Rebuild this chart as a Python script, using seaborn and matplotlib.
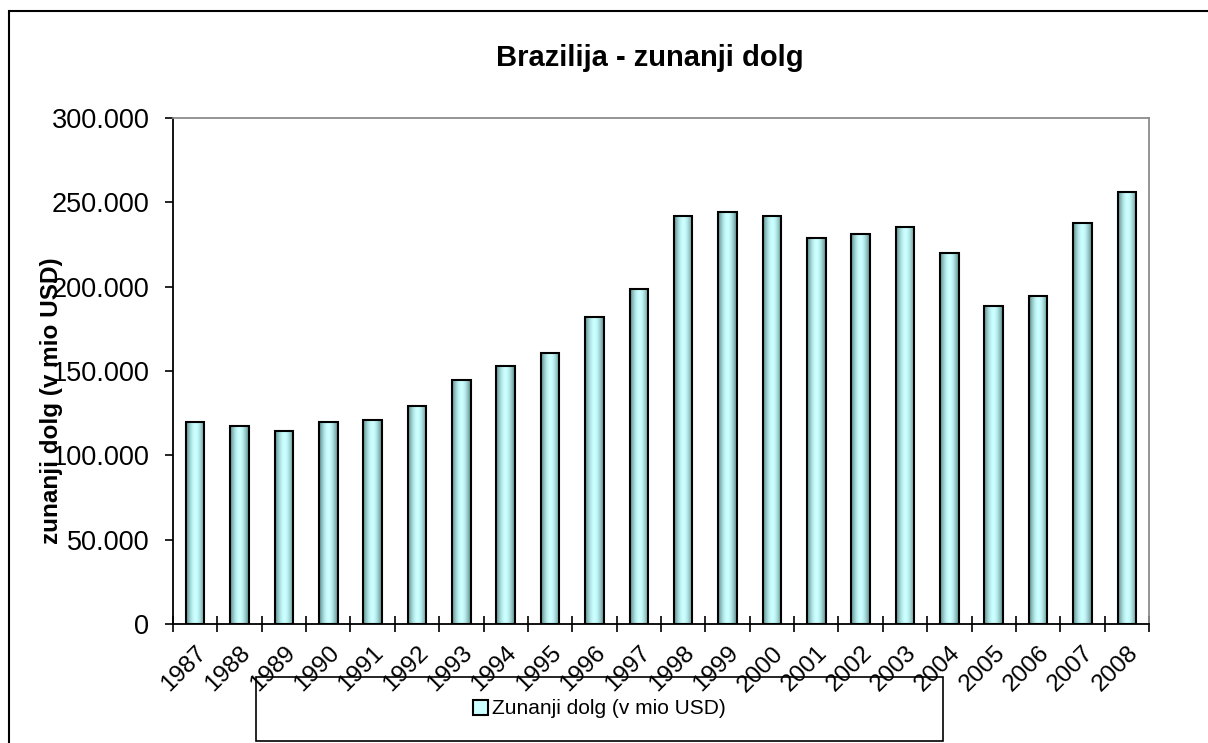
import numpy as np
import pandas as pd
import matplotlib
matplotlib.use('Agg')
import matplotlib.pyplot as plt
import seaborn as sns
from matplotlib.patches import Patch, Rectangle
from matplotlib.ticker import FuncFormatter, FixedLocator

# Data (mio USD)
years = ['1987', '1988', '1989', '1990', '1991', '1992', '1993', '1994', '1995', '1996', '1997',
         '1998', '1999', '2000', '2001', '2002', '2003', '2004', '2005', '2006', '2007', '2008']
debt = [120000, 117400, 114700, 120000, 120800, 129100, 144900, 153000, 160600, 182100, 198600,
        242000, 244200, 242000, 229000, 231400, 235500, 220200, 188500, 194400, 237800, 256000]
y_ticks = [0, 50000, 100000, 150000, 200000, 250000, 300000]

title = 'Brazilija - zunanji dolg'
y_label = 'zunanji dolg (v mio USD)'
series_name = 'Zunanji dolg (v mio USD)'

sns.set_theme(style='white')
plt.rcParams['font.family'] = ['Liberation Sans', 'DejaVu Sans']
plt.rcParams['text.color'] = 'black'
plt.rcParams['xtick.color'] = 'black'
plt.rcParams['ytick.color'] = 'black'

df = pd.DataFrame({'year': years, 'debt': debt})

fig = plt.figure(figsize=(12.08, 7.43), dpi=100)
ax = fig.add_axes([173 / 1208, 1 - 624 / 743, (1149 - 173) / 1208, (624 - 118) / 743])

sns.barplot(data=df, x='year', y='debt', color='#ccffff', width=0.42,
            edgecolor='black', linewidth=1.5, ax=ax, zorder=3)

# cylinder-like horizontal gradient inside each bar (Excel style)
light = np.array([0.80, 1.0, 1.0])
dark = np.array([0.33, 0.52, 0.52])
t = np.linspace(0, 1, 64)
f = 1 - np.abs(2 * t - 1) ** 1.8
grad = dark[None, :] * (1 - f[:, None]) + light[None, :] * f[:, None]
grad = grad[None, :, :]
for p in ax.patches:
    x0 = p.get_x()
    w = p.get_width()
    h = p.get_height()
    im = ax.imshow(grad, extent=[x0, x0 + w, 0, h], aspect='auto', zorder=2.5,
                   interpolation='bilinear')
    im.set_clip_path(p)
    p.set_facecolor('none')

ax.set_xlim(-0.5, len(years) - 0.5)
ax.set_ylim(0, 300000)
ax.set_xlabel('')
ax.set_ylabel('')

# axes styling
for side in ['left', 'bottom']:
    ax.spines[side].set_color('black')
    ax.spines[side].set_linewidth(1.3)
for side in ['top', 'right']:
    ax.spines[side].set_color('#8c8c8c')
    ax.spines[side].set_linewidth(1.3)

ax.yaxis.set_major_locator(FixedLocator(y_ticks))
ax.yaxis.set_major_formatter(FuncFormatter(lambda v, pos: f'{int(v):,}'.replace(',', '.')))
ax.tick_params(axis='y', which='major', left=True, length=6, width=1.2, color='black',
               direction='out', pad=11, labelsize=19.5, labelcolor='black')

ax.set_xticks(range(len(years)))
ax.set_xticklabels(years, rotation=45, ha='right', rotation_mode='anchor')
ax.tick_params(axis='x', which='major', bottom=False, length=0, pad=13, labelsize=17.5,
               labelcolor='black')
ax.set_xticks(np.arange(-0.5, len(years), 1.0), minor=True)
ax.tick_params(axis='x', which='minor', bottom=True, length=11, width=1.2, color='black',
               direction='inout')

# title and y label
fig.text(650 / 1208, 1 - 58 / 743, title, ha='center', va='center',
         fontsize=21, fontweight='bold', color='black')
fig.text(52 / 1208, 1 - 401 / 743, y_label, ha='center', va='center', rotation=90,
         fontsize=17.5, fontweight='bold', color='black')

# legend box at the bottom
fig.patches.append(Rectangle((256 / 1208, 1 - 741 / 743), (943 - 256) / 1208, (741 - 677) / 743,
                             transform=fig.transFigure, facecolor='none', edgecolor='black',
                             linewidth=1.2, zorder=0))
handle = Patch(facecolor='#ccffff', edgecolor='black', linewidth=1.5, label=series_name)
leg = fig.legend(handles=[handle], loc='center', bbox_to_anchor=(599 / 1208, 1 - 709 / 743),
                 frameon=False, fontsize=15, handlelength=0.75, handleheight=0.75,
                 handletextpad=0.15, borderpad=0)
for txt in leg.get_texts():
    txt.set_color('black')

# outer chart border
fig.patches.append(Rectangle((9 / 1208, -0.05), 1.1, 1 - 11 / 743 + 0.05,
                             transform=fig.transFigure, facecolor='none', edgecolor='black',
                             linewidth=1.5, zorder=0))

fig.savefig('out.png', dpi=100)
